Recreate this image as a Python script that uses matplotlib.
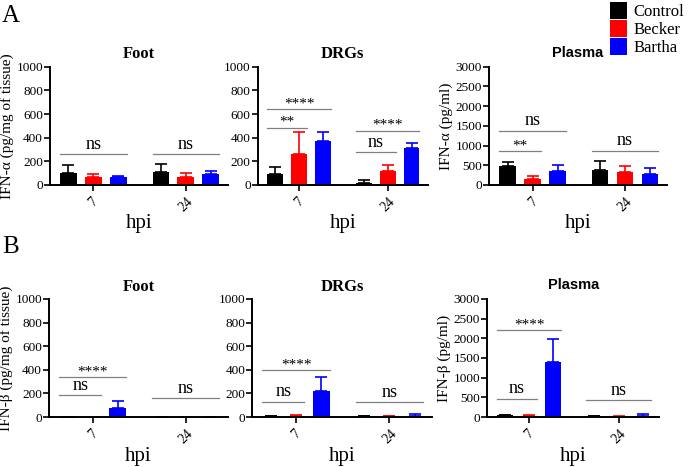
import matplotlib
matplotlib.use("Agg")
import matplotlib.pyplot as plt
import numpy as np
from matplotlib.patches import Patch

plt.rcParams['font.family'] = ['Liberation Serif', 'DejaVu Serif']

groups = ['7', '24']
series = ['Control', 'Becker', 'Bartha']
colors = ['#000000', '#ff0000', '#0000ff']

# IFN-alpha (row A): means per series, [7 hpi, 24 hpi]
foot_a_mean = [[100, 112], [68, 65], [65, 95]]
foot_a_sd = [[65, 63], [27, 35], [7, 20]]
drg_a_mean = [[95, 15], [265, 115], [370, 315]]
drg_a_sd = [[55, 25], [180, 55], [75, 40]]
plasma_a_mean = [[470, 370], [150, 325], [350, 280]]
plasma_a_sd = [[120, 240], [80, 155], [150, 160]]

# IFN-beta (row B)
foot_b_mean = [[2, 3], [3, 2], [80, 4]]
foot_b_sd = [[0, 0], [0, 0], [55, 0]]
drg_b_mean = [[5, 8], [10, 5], [220, 10]]
drg_b_sd = [[2, 2], [10, 3], [115, 15]]
plasma_b_mean = [[40, 25], [30, 10], [1410, 30]]
plasma_b_sd = [[10, 5], [10, 5], [570, 40]]

# significance: (group, from series, to series, height, text)
foot_a_sig = [(0, 0, 2, 260, 'ns'), (1, 0, 2, 260, 'ns')]
drg_a_sig = [(0, 0, 1, 485, '**'), (0, 0, 2, 645, '****'),
             (1, 0, 1, 275, 'ns'), (1, 0, 2, 460, '****')]
plasma_a_sig = [(0, 0, 1, 850, '**'), (0, 0, 2, 1380, 'ns'), (1, 0, 2, 870, 'ns')]
foot_b_sig = [(0, 0, 1, 185, 'ns'), (0, 0, 2, 335, '****'), (1, 0, 2, 160, 'ns')]
drg_b_sig = [(0, 0, 1, 130, 'ns'), (0, 0, 2, 395, '****'), (1, 0, 2, 125, 'ns')]
plasma_b_sig = [(0, 0, 1, 470, 'ns'), (0, 0, 2, 2200, '****'), (1, 0, 2, 420, 'ns')]

fig = plt.figure(figsize=(6.89, 4.67), dpi=100)

step = 0.27
width = 0.18


def panel(rect, title, means, sds, sigs, ymax, ystep, ylabel=None, sans_title=False):
    ax = fig.add_axes(rect)
    x = np.arange(len(groups))
    for i, name in enumerate(series):
        xs = x + (i - 1) * step
        ax.bar(xs, means[i], width, color=colors[i], zorder=2)
        ax.errorbar(xs, means[i], yerr=[np.zeros(len(groups)), sds[i]],
                    fmt='none', ecolor=colors[i], elinewidth=1.2,
                    capsize=4, capthick=1.2, zorder=1)
    for g, a, b, h, txt in sigs:
        x0 = g + (a - 1) * step - width / 2
        x1 = g + (b - 1) * step + width / 2
        ax.plot([x0, x1], [h, h], color='#808080', lw=0.9)
        if txt == 'ns':
            ax.annotate(txt, ((x0 + x1) / 2, h), xytext=(0, 1),
                        textcoords='offset points', ha='center', va='bottom',
                        fontsize=13)
        else:
            ax.annotate(txt, ((x0 + x1) / 2, h), xytext=(0, -1),
                        textcoords='offset points', ha='center', va='bottom',
                        fontsize=11)
    ax.set_xlim(-0.47, 1.455)
    ax.set_ylim(0, ymax)
    ax.set_yticks(np.arange(0, ymax + 1, ystep))
    ax.set_xticks(x)
    ax.set_xticklabels(groups, rotation=45, fontsize=10)
    ax.tick_params(axis='y', labelsize=9.5, width=1.2, length=4, pad=1)
    ax.tick_params(axis='x', width=1.2, length=4)
    ax.spines['top'].set_visible(False)
    ax.spines['right'].set_visible(False)
    ax.spines['left'].set_linewidth(1.4)
    ax.spines['bottom'].set_linewidth(1.4)
    ax.set_xlabel('hpi', fontsize=15, labelpad=0)
    if ylabel:
        ax.set_ylabel(ylabel, fontsize=11, labelpad=2)
    if sans_title:
        ax.set_title(title, fontsize=10.5, fontweight='bold',
                     family='Liberation Sans', pad=7)
    else:
        ax.set_title(title, fontsize=12, fontweight='bold', pad=6)
    return ax


top_b, h = 0.604, 0.253
bot_b = 0.107
panel([0.0726, top_b, 0.258, h], 'Foot', foot_a_mean, foot_a_sd, foot_a_sig,
      1000, 200, 'IFN-α (pg/mg of tissue)')
panel([0.374, top_b, 0.247, h], 'DRGs', drg_a_mean, drg_a_sd, drg_a_sig,
      1000, 200)
panel([0.710, top_b, 0.258, h], 'Plasma', plasma_a_mean, plasma_a_sd, plasma_a_sig,
      3000, 500, 'IFN-α (pg/ml)', sans_title=True)
panel([0.0711, bot_b, 0.260, h], 'Foot', foot_b_mean, foot_b_sd, foot_b_sig,
      1000, 200, 'IFN-β (pg/mg of tissue)')
panel([0.366, bot_b, 0.261, h], 'DRGs', drg_b_mean, drg_b_sd, drg_b_sig,
      1000, 200)
panel([0.707, bot_b, 0.250, h], 'Plasma', plasma_b_mean, plasma_b_sd, plasma_b_sig,
      3000, 500, 'IFN-β (pg/ml)', sans_title=True)

fig.text(0.003, 0.965, 'A', fontsize=18, va='center')
fig.text(0.003, 0.472, 'B', fontsize=18, va='center')

handles = [Patch(facecolor=c) for c in colors]
fig.legend(handles, series, loc='upper right', bbox_to_anchor=(1.008, 1.018),
           frameon=False, fontsize=12, handlelength=1.0, handleheight=1.2,
           handletextpad=0.4, labelspacing=0.0, borderaxespad=0.2)

fig.savefig('out.png', dpi=100)
